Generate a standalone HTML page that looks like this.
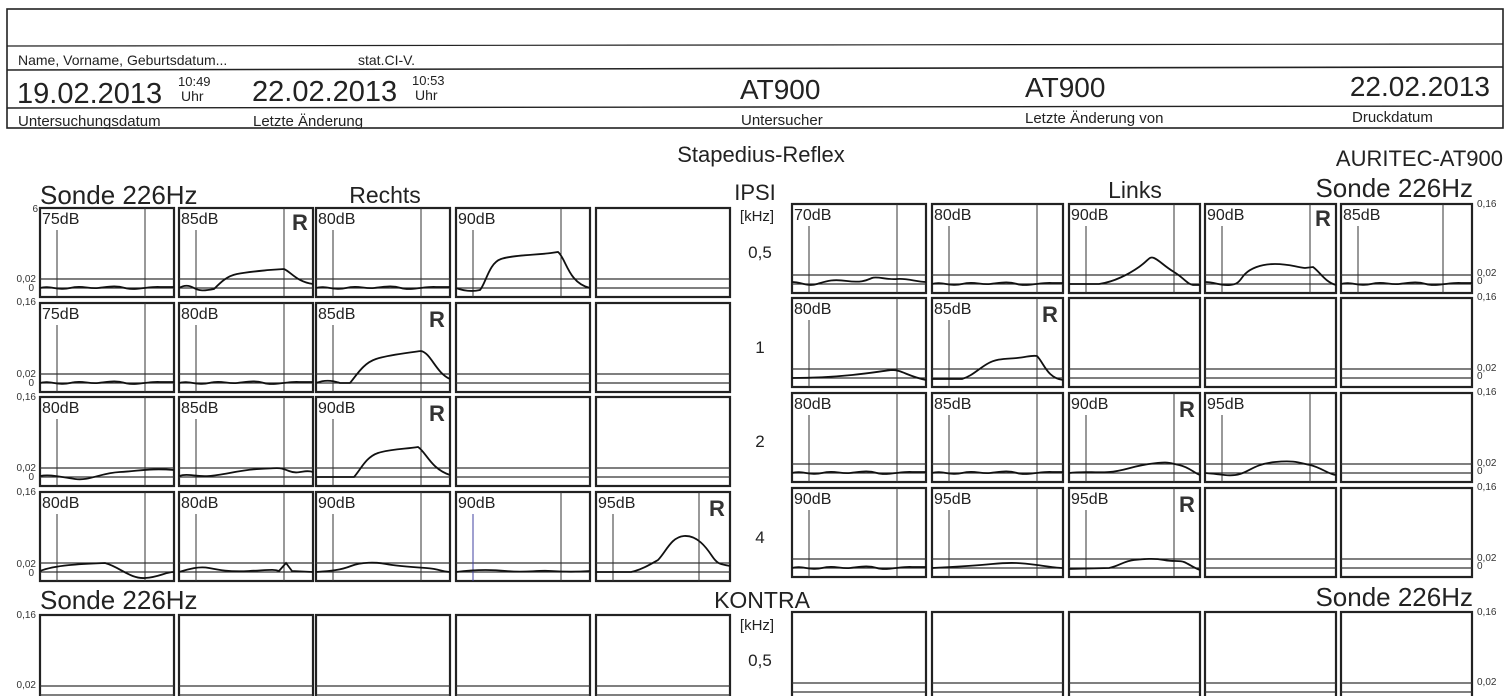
<!DOCTYPE html>
<html><head><meta charset="utf-8"><style>
html,body{margin:0;padding:0;background:#fff;}
svg{display:block;font-family:"Liberation Sans",Arial,sans-serif;}
.f{fill:none;stroke:#222;stroke-width:2.2}
.l{stroke:#333;stroke-width:1.2}
.m{stroke:#333;stroke-width:1}
.c{fill:none;stroke:#111;stroke-width:1.8}
.lab{font-size:16px;fill:#222}
.R{font-size:22px;font-weight:bold;fill:#333}
.ax{font-size:10px;fill:#333}
</style></head><body>
<svg width="1509" height="696" viewBox="0 0 1509 696" xmlns="http://www.w3.org/2000/svg">
<defs>
<g id="fr"><rect x="0" y="0" width="134" height="89" class="f"/><line x1="0" y1="71" x2="134" y2="71" class="l"/><line x1="0" y1="80" x2="134" y2="80" class="l"/></g>
<g id="fr2"><rect x="0" y="0" width="131" height="89" class="f"/><line x1="0" y1="71" x2="131" y2="71" class="l"/><line x1="0" y1="80" x2="131" y2="80" class="l"/></g>
<g id="mk"><line x1="17" y1="22" x2="17" y2="89" class="m"/><line x1="105" y1="0" x2="105" y2="89" class="m"/></g>
<path id="flat" d="M0,80 C10,77 18,83 30,80 S48,81 58,80 S75,77 85,80 S110,78 120,79 L134,79"/>
<path id="flat2" d="M0,80 C10,77 18,83 30,80 S48,81 58,80 S75,77 85,80 S110,78 120,79 L131,79"/>
</defs>
<!-- header -->
<rect x="7" y="9" width="1496" height="119" fill="none" stroke="#222" stroke-width="1.6"/>
<line x1="7" y1="46" x2="1503" y2="44" stroke="#222" stroke-width="1.2"/>
<line x1="7" y1="70" x2="1503" y2="67" stroke="#222" stroke-width="1.6"/>
<line x1="7" y1="108" x2="1503" y2="106" stroke="#222" stroke-width="1.4"/>
<text x="18" y="65" font-size="14" fill="#222">Name, Vorname, Geburtsdatum...</text>
<text x="358" y="65" font-size="14" fill="#222">stat.CI-V.</text>
<text x="17" y="103" font-size="29" fill="#222">19.02.2013</text>
<text x="178" y="86" font-size="13" fill="#222">10:49</text><text x="181" y="101" font-size="14" fill="#222">Uhr</text>
<text x="252" y="101" font-size="29" fill="#222">22.02.2013</text>
<text x="412" y="85" font-size="13" fill="#222">10:53</text><text x="415" y="100" font-size="14" fill="#222">Uhr</text>
<text x="740" y="99" font-size="28" fill="#222">AT900</text>
<text x="1025" y="97" font-size="28" fill="#222">AT900</text>
<text x="1490" y="96" font-size="28" fill="#222" text-anchor="end">22.02.2013</text>
<text x="18" y="126" font-size="15" fill="#222">Untersuchungsdatum</text>
<text x="253" y="126" font-size="15" fill="#222">Letzte Änderung</text>
<text x="741" y="125" font-size="15" fill="#222">Untersucher</text>
<text x="1025" y="123" font-size="15" fill="#222">Letzte Änderung von</text>
<text x="1352" y="122" font-size="15" fill="#222">Druckdatum</text>

<text x="761" y="162" font-size="22" fill="#222" text-anchor="middle">Stapedius-Reflex</text>
<text x="1503" y="166" font-size="22" fill="#222" text-anchor="end">AURITEC-AT900</text>
<text x="40" y="204" font-size="26" fill="#222">Sonde 226Hz</text>
<text x="385" y="203" font-size="23" fill="#222" text-anchor="middle">Rechts</text>
<text x="755" y="200" font-size="22" fill="#222" text-anchor="middle">IPSI</text>
<text x="1135" y="198" font-size="23" fill="#222" text-anchor="middle">Links</text>
<text x="1473" y="197" font-size="26" fill="#222" text-anchor="end">Sonde 226Hz</text>
<text x="757" y="221" font-size="15" fill="#222" text-anchor="middle">[kHz]</text>
<text x="760" y="258" font-size="17" fill="#222" text-anchor="middle">0,5</text>
<text x="760" y="353" font-size="17" fill="#222" text-anchor="middle">1</text>
<text x="760" y="447" font-size="17" fill="#222" text-anchor="middle">2</text>
<text x="760" y="543" font-size="17" fill="#222" text-anchor="middle">4</text>
<text x="762" y="608" font-size="23" fill="#222" text-anchor="middle">KONTRA</text>
<text x="40" y="609" font-size="26" fill="#222">Sonde 226Hz</text>
<text x="1473" y="606" font-size="26" fill="#222" text-anchor="end">Sonde 226Hz</text>
<text x="757" y="630" font-size="15" fill="#222" text-anchor="middle">[kHz]</text>
<text x="760" y="666" font-size="17" fill="#222" text-anchor="middle">0,5</text>

<g class="ax" text-anchor="end">
<text x="38" y="212">6</text><text x="36" y="282">0,02</text><text x="34" y="291">0</text>
<text x="36" y="305">0,16</text><text x="36" y="377">0,02</text><text x="34" y="386">0</text>
<text x="36" y="400">0,16</text><text x="36" y="471">0,02</text><text x="34" y="480">0</text>
<text x="36" y="495">0,16</text><text x="36" y="567">0,02</text><text x="34" y="576">0</text>
<text x="36" y="618">0,16</text><text x="36" y="688">0,02</text>
</g>
<g class="ax">
<text x="1477" y="207">0,16</text><text x="1477" y="276">0,02</text><text x="1477" y="284">0</text>
<text x="1477" y="300">0,16</text><text x="1477" y="371">0,02</text><text x="1477" y="379">0</text>
<text x="1477" y="395">0,16</text><text x="1477" y="466">0,02</text><text x="1477" y="474">0</text>
<text x="1477" y="490">0,16</text><text x="1477" y="561">0,02</text><text x="1477" y="569">0</text>
<text x="1477" y="615">0,16</text><text x="1477" y="685">0,02</text>
</g>

<!-- LEFT row1 -->
<g transform="translate(40,208)"><use href="#fr"/><use href="#mk"/><use href="#flat" class="c"/><text x="2" y="16" class="lab">75dB</text></g>
<g transform="translate(179,208)"><use href="#fr"/><use href="#mk"/><path class="c" d="M0,80 C5,77 10,77 15,80 S25,83 35,81 C42,74 48,68 58,66 S80,63 90,62 L105,61 C112,64 118,74 134,76"/><text x="2" y="16" class="lab">85dB</text><text x="113" y="22" class="R">R</text></g>
<g transform="translate(316,208)"><use href="#fr"/><use href="#mk"/><use href="#flat" class="c"/><text x="2" y="16" class="lab">80dB</text></g>
<g transform="translate(456,208)"><use href="#fr"/><use href="#mk"/><path class="c" d="M0,80 C8,83 15,84 24,82 C30,75 33,55 45,51 S80,47 95,45 L102,44 C110,50 112,75 134,80"/><text x="2" y="16" class="lab">90dB</text></g>
<g transform="translate(596,208)"><use href="#fr"/></g>
<!-- LEFT row2 -->
<g transform="translate(40,303)"><use href="#fr"/><use href="#mk"/><use href="#flat" class="c"/><text x="2" y="16" class="lab">75dB</text></g>
<g transform="translate(179,303)"><use href="#fr"/><use href="#mk"/><use href="#flat" class="c"/><text x="2" y="16" class="lab">80dB</text></g>
<g transform="translate(316,303)"><use href="#fr"/><use href="#mk"/><path class="c" d="M0,80 C8,77 15,77 24,80 L34,80 C42,70 48,60 60,56 S90,50 105,48 C115,50 120,70 134,76"/><text x="2" y="16" class="lab">85dB</text><text x="113" y="24" class="R">R</text></g>
<g transform="translate(456,303)"><use href="#fr"/></g>
<g transform="translate(596,303)"><use href="#fr"/></g>
<!-- LEFT row3 -->
<g transform="translate(40,397)"><use href="#fr"/><use href="#mk"/><path class="c" d="M0,79 C10,77 20,80 35,82 S60,76 80,75 S110,71 134,73"/><text x="2" y="16" class="lab">80dB</text></g>
<g transform="translate(179,397)"><use href="#fr"/><use href="#mk"/><path class="c" d="M0,79 C10,76 15,80 30,79 S60,73 80,72 S100,70 110,74 S125,72 134,75"/><text x="2" y="16" class="lab">85dB</text></g>
<g transform="translate(316,397)"><use href="#fr"/><use href="#mk"/><path class="c" d="M0,80 L38,80 C45,72 50,60 62,56 S90,52 102,50 C110,55 115,72 134,78"/><text x="2" y="16" class="lab">90dB</text><text x="113" y="24" class="R">R</text></g>
<g transform="translate(456,397)"><use href="#fr"/></g>
<g transform="translate(596,397)"><use href="#fr"/></g>
<!-- LEFT row4 -->
<g transform="translate(40,492)"><use href="#fr"/><use href="#mk"/><path class="c" d="M0,79 C15,73 40,72 65,71 C80,75 90,87 105,86 S125,80 134,80"/><text x="2" y="16" class="lab">80dB</text></g>
<g transform="translate(179,492)"><use href="#fr"/><use href="#mk"/><path class="c" d="M0,80 C10,77 20,74 30,76 S50,80 70,79 S95,77 100,79 L107,71 L113,79 L134,80"/><text x="2" y="16" class="lab">80dB</text></g>
<g transform="translate(316,492)"><use href="#fr"/><use href="#mk"/><path class="c" d="M0,80 C15,79 25,78 35,74 S60,70 70,72 S95,75 110,76 S125,80 134,80"/><text x="2" y="16" class="lab">90dB</text></g>
<g transform="translate(456,492)"><use href="#fr"/><line x1="17" y1="22" x2="17" y2="89" stroke="#4040a0" stroke-width="1"/><line x1="105" y1="0" x2="105" y2="89" class="m"/><path class="c" d="M0,80 C15,78 30,77 50,79 S80,78 95,79 S120,80 134,79"/><text x="2" y="16" class="lab">90dB</text></g>
<g transform="translate(596,492)"><use href="#fr"/><line x1="17" y1="22" x2="17" y2="89" class="m"/><line x1="103" y1="0" x2="103" y2="89" class="m"/><path class="c" d="M0,80 L35,80 C45,78 55,72 62,68 C70,60 75,45 88,44 S110,55 116,64 S125,72 134,74"/><text x="2" y="16" class="lab">95dB</text><text x="113" y="24" class="R">R</text></g>
<!-- LEFT kontra -->
<g transform="translate(40,615)"><use href="#fr"/></g>
<g transform="translate(179,615)"><use href="#fr"/></g>
<g transform="translate(316,615)"><use href="#fr"/></g>
<g transform="translate(456,615)"><use href="#fr"/></g>
<g transform="translate(596,615)"><use href="#fr"/></g>

<!-- RIGHT row1 -->
<g transform="translate(792,204)"><use href="#fr"/><use href="#mk"/><path class="c" d="M0,78 C10,78 15,83 25,80 S40,75 55,77 S75,76 80,74 S95,76 105,75 S125,78 134,78"/><text x="2" y="16" class="lab">70dB</text></g>
<g transform="translate(932,204)"><use href="#fr2"/><use href="#mk"/><use href="#flat2" class="c"/><text x="2" y="16" class="lab">80dB</text></g>
<g transform="translate(1069,204)"><use href="#fr2"/><use href="#mk"/><path class="c" d="M0,80 L30,80 C45,78 60,70 70,63 S80,52 85,54 S95,62 105,68 S118,80 124,81 L131,81"/><text x="2" y="16" class="lab">90dB</text></g>
<g transform="translate(1205,204)"><use href="#fr2"/><use href="#mk"/><path class="c" d="M0,78 C10,78 15,82 25,81 S35,75 40,70 S55,60 70,60 S90,63 100,64 L108,63 C115,68 120,78 131,81"/><text x="2" y="16" class="lab">90dB</text><text x="110" y="22" class="R">R</text></g>
<g transform="translate(1341,204)"><use href="#fr2"/><line x1="17" y1="22" x2="17" y2="89" class="m"/><line x1="102" y1="0" x2="102" y2="89" class="m"/><use href="#flat2" class="c"/><text x="2" y="16" class="lab">85dB</text></g>
<!-- RIGHT row2 -->
<g transform="translate(792,298)"><use href="#fr"/><use href="#mk"/><path class="c" d="M0,80 C20,80 40,79 60,77 S90,73 100,72 C110,72 115,78 134,82"/><text x="2" y="16" class="lab">80dB</text></g>
<g transform="translate(932,298)"><use href="#fr2"/><use href="#mk"/><path class="c" d="M0,81 L30,81 C40,78 45,72 55,66 S75,61 85,60 S100,57 105,58 C112,65 115,80 131,82"/><text x="2" y="16" class="lab">85dB</text><text x="110" y="24" class="R">R</text></g>
<g transform="translate(1069,298)"><use href="#fr2"/></g>
<g transform="translate(1205,298)"><use href="#fr2"/></g>
<g transform="translate(1341,298)"><use href="#fr2"/></g>
<!-- RIGHT row3 -->
<g transform="translate(792,393)"><use href="#fr"/><use href="#mk"/><use href="#flat" class="c"/><text x="2" y="16" class="lab">80dB</text></g>
<g transform="translate(932,393)"><use href="#fr2"/><use href="#mk"/><use href="#flat2" class="c"/><text x="2" y="16" class="lab">85dB</text></g>
<g transform="translate(1069,393)"><use href="#fr2"/><use href="#mk"/><path class="c" d="M0,80 C15,78 25,80 40,79 S60,74 80,71 S100,70 110,72 S125,80 131,82"/><text x="2" y="16" class="lab">90dB</text><text x="110" y="24" class="R">R</text></g>
<g transform="translate(1205,393)"><use href="#fr2"/><use href="#mk"/><path class="c" d="M0,80 C15,81 25,84 35,81 S50,71 70,69 S95,70 105,72 S125,82 131,82"/><text x="2" y="16" class="lab">95dB</text></g>
<g transform="translate(1341,393)"><use href="#fr2"/></g>
<!-- RIGHT row4 -->
<g transform="translate(792,488)"><use href="#fr"/><use href="#mk"/><use href="#flat" class="c"/><text x="2" y="16" class="lab">90dB</text></g>
<g transform="translate(932,488)"><use href="#fr2"/><use href="#mk"/><path class="c" d="M0,80 C20,79 40,78 60,76 S90,75 105,77 S125,80 131,80"/><text x="2" y="16" class="lab">95dB</text></g>
<g transform="translate(1069,488)"><use href="#fr2"/><use href="#mk"/><path class="c" d="M0,81 L40,80 C50,78 55,73 65,72 S85,70 95,72 S110,72 115,74 S125,80 131,82"/><text x="2" y="16" class="lab">95dB</text><text x="110" y="24" class="R">R</text></g>
<g transform="translate(1205,488)"><use href="#fr2"/></g>
<g transform="translate(1341,488)"><use href="#fr2"/></g>
<!-- RIGHT kontra -->
<g transform="translate(792,612)"><use href="#fr"/></g>
<g transform="translate(932,612)"><use href="#fr2"/></g>
<g transform="translate(1069,612)"><use href="#fr2"/></g>
<g transform="translate(1205,612)"><use href="#fr2"/></g>
<g transform="translate(1341,612)"><use href="#fr2"/></g>
</svg>
</body></html>
